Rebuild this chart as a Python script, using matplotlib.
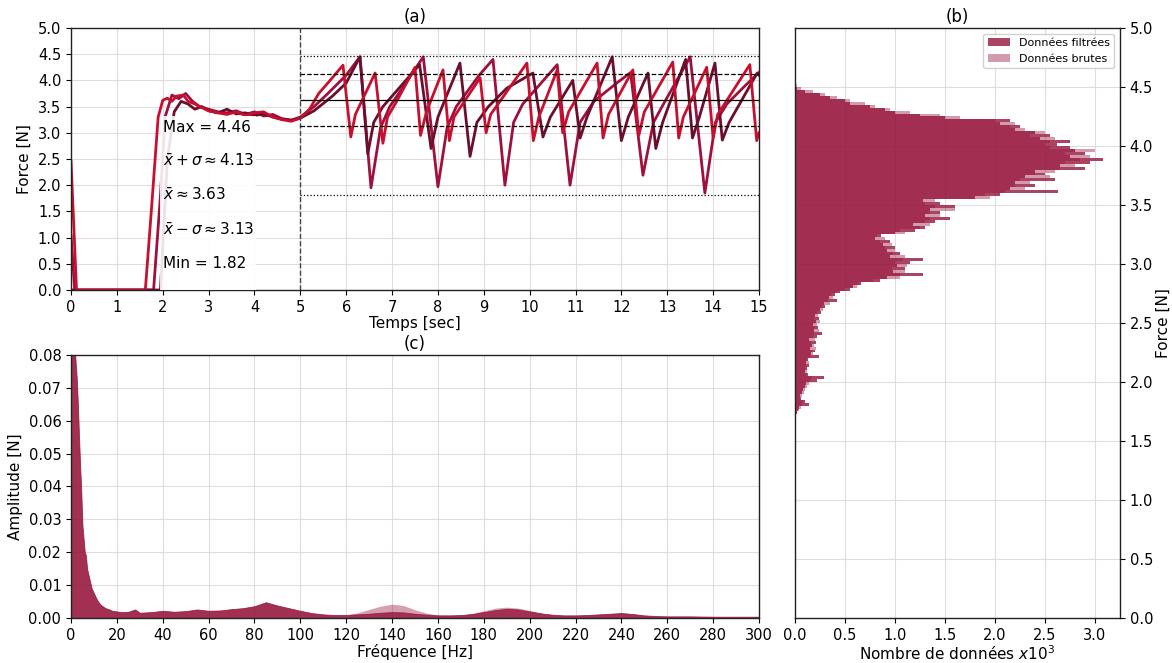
import numpy as np
import matplotlib
matplotlib.use("Agg")
import matplotlib.pyplot as plt
from matplotlib.patches import Rectangle, Patch

# ---------------- data ----------------
# (a) force traces: vertices (time [s], force [N]) for the three trials
t_a = [0, 0.12, 1.62, 1.75, 1.9, 2.0, 2.1, 2.2, 2.3, 2.45, 2.55, 2.7, 2.85, 3.0, 3.2,
       3.4, 3.6, 3.8, 4.0, 4.2, 4.4, 4.6, 4.8, 5.0, 5.2, 5.4, 5.6, 5.93, 6.10, 6.2,
       6.63, 6.80, 6.9, 7.1, 7.5, 7.62, 7.75, 8.11, 8.25, 8.35, 8.92, 9.05, 9.15, 9.94,
       10.08, 10.2, 10.6, 10.72, 10.85, 11.47, 11.6, 11.72, 12.25, 12.38, 12.5, 13.12,
       13.25, 13.35, 13.86, 14.0, 14.1, 14.8, 14.95, 15.0]
f_a = [2.45, 0, 0, 1.5, 3.3, 3.62, 3.66, 3.6, 3.7, 3.72, 3.6, 3.55, 3.48, 3.42, 3.38,
       3.35, 3.4, 3.33, 3.38, 3.4, 3.3, 3.25, 3.22, 3.28, 3.45, 3.75, 3.95, 4.29, 2.92, 3.35,
       4.14, 2.80, 3.3, 3.6, 4.25, 2.95, 3.4, 4.2, 2.85, 3.3, 4.05, 3.0, 3.35, 4.33,
       2.85, 3.3, 4.2, 3.0, 3.4, 4.33, 2.9, 3.35, 4.2, 2.95, 3.4, 4.35,
       2.9, 3.3, 4.25, 2.9, 3.35, 4.3, 2.85, 3.0]

t_b = [0, 0.08, 1.8, 1.95, 2.05, 2.2, 2.35, 2.5, 2.65, 2.8, 3.0, 3.2, 3.4, 3.6, 3.8,
       4.0, 4.2, 4.4, 4.6, 4.8, 5.0, 5.3, 5.6, 6.0, 6.3, 6.54, 6.75, 6.95, 7.3, 7.68,
       8.0, 8.2, 8.4, 8.9, 9.2, 9.46, 9.65, 9.85, 10.3, 10.6, 10.88, 11.1, 11.4, 11.9,
       12.2, 12.47, 12.7, 12.95, 13.5, 13.82, 14.05, 14.3, 14.7, 15.0]
f_b = [1.05, 0, 0, 1.8, 3.3, 3.72, 3.65, 3.75, 3.6, 3.5, 3.45, 3.4, 3.38, 3.42, 3.35,
       3.4, 3.32, 3.35, 3.27, 3.24, 3.3, 3.5, 3.75, 4.1, 4.45, 1.95, 3.1, 3.5, 3.95, 4.45,
       1.97, 3.1, 3.5, 4.1, 4.4, 2.0, 3.2, 3.55, 4.0, 4.3, 2.0, 3.2, 3.6, 3.95,
       4.15, 2.19, 3.2, 3.6, 4.45, 1.85, 3.2, 3.55, 3.9, 4.15]

t_c = [0, 1.95, 2.1, 2.25, 2.4, 2.55, 2.7, 2.85, 3.0, 3.2, 3.4, 3.6, 3.8, 4.0, 4.2,
       4.4, 4.6, 4.8, 5.0, 5.3, 5.7, 6.0, 6.3, 6.47, 6.6, 6.8, 7.2, 7.6, 7.85, 8.0,
       8.48, 8.7, 8.85, 9.1, 9.5, 10.07, 10.29, 10.45, 10.94, 11.1, 11.25, 11.8, 12.0,
       12.15, 12.58, 12.75, 12.9, 13.4, 13.55, 13.7, 14.04, 14.2, 14.35, 14.96, 15.0]
f_c = [0, 0, 2.5, 3.4, 3.6, 3.55, 3.45, 3.5, 3.42, 3.38, 3.45, 3.36, 3.38, 3.33, 3.36,
       3.3, 3.26, 3.24, 3.28, 3.42, 3.7, 3.95, 4.45, 2.6, 3.2, 3.5, 3.9, 4.3, 2.7, 3.3,
       4.33, 2.55, 3.2, 3.5, 3.85, 4.14, 2.92, 3.3, 4.0, 2.9, 3.3, 4.45, 2.85,
       3.3, 4.14, 2.7, 3.2, 4.4, 2.9, 3.3, 4.33, 2.86, 3.2, 4.14, 4.1]

stat_values = [4.46, 4.13, 3.63, 3.13, 1.82]   # max, mean+sd, mean, mean-sd, min
stat_styles = [":", "--", "-", "--", ":"]

# (b) histogram, counts x1e3 per 0.025 N bin starting at 1.700 N
hist_start, hist_width = 1.700, 0.025
hist_filtered = [0.01, 0.02, 0.03, 0.04, 0.14, 0.10, 0.06, 0.05, 0.07, 0.08, 0.10, 0.11,
                 0.22, 0.29, 0.13, 0.10, 0.12, 0.14, 0.11, 0.13, 0.24, 0.16, 0.20, 0.15,
                 0.17, 0.21, 0.14, 0.22, 0.27, 0.19, 0.23, 0.18, 0.21, 0.24, 0.20, 0.26,
                 0.25, 0.30, 0.29, 0.42, 0.34, 0.40, 0.45, 0.55, 0.58, 0.66, 0.85, 0.92,
                 1.28, 0.98, 1.10, 1.02, 1.15, 1.28, 0.95, 1.05, 0.92, 1.00, 0.88, 0.95,
                 0.80, 0.86, 1.00, 1.20, 1.30, 1.18, 1.40, 1.55, 1.30, 1.45, 1.35, 1.60,
                 1.45, 1.28, 1.80, 2.05, 2.63, 2.15, 2.40, 2.20, 2.60, 2.30, 2.50, 2.40,
                 2.90, 2.65, 2.95, 3.08, 2.75, 2.90, 2.80, 2.75, 2.62, 2.75, 2.45, 2.55,
                 2.40, 2.20, 2.25, 2.05, 2.15, 1.50, 1.25, 1.00, 0.90, 0.75, 0.55, 0.50,
                 0.35, 0.25, 0.10, 0.02, 0.00, 0.00]
hist_raw = [0.01, 0.02, 0.04, 0.06, 0.07, 0.08, 0.05, 0.07, 0.09, 0.10, 0.12, 0.14,
            0.15, 0.17, 0.11, 0.12, 0.10, 0.11, 0.14, 0.12, 0.15, 0.18, 0.17, 0.21,
            0.19, 0.16, 0.20, 0.18, 0.19, 0.24, 0.20, 0.22, 0.25, 0.19, 0.23, 0.22,
            0.28, 0.27, 0.35, 0.33, 0.38, 0.36, 0.42, 0.50, 0.62, 0.64, 0.78, 1.05,
            1.05, 1.10, 0.97, 1.12, 1.00, 1.08, 1.10, 0.98, 1.00, 0.90, 0.97, 0.85,
            0.90, 0.82, 1.10, 1.05, 1.25, 1.35, 1.30, 1.35, 1.45, 1.35, 1.60, 1.40,
            1.30, 1.40, 1.95, 1.90, 2.10, 2.30, 2.20, 2.35, 2.25, 2.55, 2.40, 2.60,
            2.65, 2.80, 2.70, 2.85, 2.95, 2.70, 3.00, 2.55, 2.50, 2.55, 2.60, 2.35,
            2.50, 2.30, 2.15, 2.20, 2.00, 1.65, 1.45, 1.15, 0.95, 0.80, 0.70, 0.55,
            0.42, 0.30, 0.18, 0.06, 0.02, 0.01]

# (c) amplitude spectrum envelopes
spec_freq = [0, 0.5, 1, 1.5, 2, 2.5, 3, 3.5, 4, 4.5, 5, 5.5, 6, 6.5, 7, 8, 9, 10, 11, 12,
             13, 14, 15, 16, 18, 20, 22, 25, 28, 30, 35, 40, 45, 50, 55, 60, 65, 70, 75,
             80, 85, 90, 95, 100, 105, 110, 115, 120, 125, 130, 135, 140, 145, 150, 155,
             160, 165, 170, 175, 180, 185, 190, 195, 200, 205, 210, 215, 220, 225, 230,
             235, 240, 245, 250, 255, 260, 270, 280, 290, 300]
spec_filt = [0.09, 0.095, 0.09, 0.085, 0.078, 0.073, 0.065, 0.055, 0.046, 0.038, 0.028,
             0.024, 0.020, 0.019, 0.015, 0.012, 0.009, 0.0075, 0.006, 0.0048,
             0.004, 0.0035, 0.003, 0.0028, 0.0022, 0.002, 0.0018, 0.0019, 0.0026, 0.0016,
             0.0018, 0.0022, 0.0019, 0.0021, 0.0026, 0.0022, 0.0023, 0.0027, 0.003,
             0.0036, 0.0048, 0.0038, 0.003, 0.0022, 0.0015, 0.0011, 0.0009, 0.0009,
             0.0011, 0.0013, 0.0016, 0.0018, 0.0017, 0.0013, 0.001, 0.0008, 0.0008,
             0.0009, 0.0012, 0.0018, 0.0024, 0.0028, 0.0026, 0.002, 0.0014, 0.001,
             0.0008, 0.0008, 0.0009, 0.0011, 0.0013, 0.0015, 0.0012, 0.0008, 0.0006,
             0.0005, 0.0005, 0.0004, 0.0004, 0.0004]
spec_raw = [0.09, 0.095, 0.09, 0.085, 0.078, 0.073, 0.065, 0.055, 0.046, 0.038, 0.028,
            0.024, 0.020, 0.019, 0.015, 0.012, 0.009, 0.0075, 0.006, 0.0048,
            0.004, 0.0035, 0.003, 0.0028, 0.0022, 0.002, 0.0018, 0.0019, 0.0026, 0.0016,
            0.0018, 0.0022, 0.0019, 0.0021, 0.0026, 0.0022, 0.0023, 0.0027, 0.003,
            0.0036, 0.0048, 0.0038, 0.003, 0.0022, 0.0015, 0.0011, 0.0009, 0.0010,
            0.0016, 0.0026, 0.0036, 0.0042, 0.0038, 0.0025, 0.0015, 0.0009, 0.0008,
            0.0009, 0.0014, 0.0022, 0.0030, 0.0033, 0.0030, 0.0023, 0.0015, 0.001,
            0.0008, 0.0008, 0.0009, 0.0011, 0.0013, 0.0016, 0.0013, 0.0008, 0.0006,
            0.0005, 0.0005, 0.0004, 0.0004, 0.0004]

# ---------------- figure ----------------
plt.rcParams.update({"font.size": 11, "axes.edgecolor": "#222",
                     "axes.linewidth": 1.0, "xtick.labelsize": 10.5,
                     "ytick.labelsize": 10.5})
RED, MID, DARK = "#C8102E", "#A0103C", "#6B0F2E"
BASE = "#96143C"
grid_kw = dict(color="#dddddd", lw=0.8)

fig = plt.figure(figsize=(11.72, 6.63), dpi=100)
axA = fig.add_axes([0.0606, 0.5626, 0.5870, 0.3952])
axC = fig.add_axes([0.0606, 0.0679, 0.5870, 0.3967])
axB = fig.add_axes([0.6783, 0.0679, 0.2773, 0.8899])

# ---- (a) time traces ----
axA.plot(t_b, f_b, color=MID, lw=2.0, zorder=2)
axA.plot(t_c, f_c, color=DARK, lw=2.0, zorder=2)
axA.plot(t_a, f_a, color=RED, lw=2.0, zorder=2)
axA.axvline(5, color="#444", ls="--", lw=1.0, zorder=3)
for v, s in zip(stat_values, stat_styles):
    axA.hlines(v, 5, 15, colors="black", linestyles=s, lw=0.9, zorder=3)
axA.add_patch(Rectangle((1.93, 0), 2.1, 3.32, facecolor="white", alpha=0.88,
                        edgecolor="none", zorder=4))
labels = [f"Max = {stat_values[0]:.2f}",
          rf"$\bar{{x}}+\sigma \approx {stat_values[1]:.2f}$",
          rf"$\bar{{x}} \approx {stat_values[2]:.2f}$",
          rf"$\bar{{x}}-\sigma \approx {stat_values[3]:.2f}$",
          f"Min = {stat_values[4]:.2f}"]
for i, lab in enumerate(labels):
    axA.text(2.0, 3.11 - 0.652 * i, lab, fontsize=11, va="center", ha="left", zorder=5)
axA.set_xlim(0, 15)
axA.set_ylim(0, 5)
axA.set_xticks(range(0, 16))
axA.set_yticks(np.arange(0, 5.01, 0.5))
axA.grid(True, **grid_kw)
axA.set_axisbelow(True)
axA.set_xlabel("Temps [sec]", labelpad=1)
axA.set_ylabel("Force [N]")
axA.set_title("(a)", fontsize=12, pad=4)

# ---- (b) histogram ----
edges = hist_start + hist_width * np.arange(len(hist_filtered))
axB.barh(edges, hist_raw, height=hist_width, align="edge", color=BASE, alpha=0.42,
         lw=0, label="Données brutes")
axB.barh(edges, hist_filtered, height=hist_width, align="edge", color=BASE, alpha=0.8,
         lw=0, label="Données filtrées")
axB.set_xlim(0, 3.25)
axB.set_ylim(0, 5)
axB.set_xticks(np.arange(0, 3.01, 0.5))
axB.set_yticks(np.arange(0, 5.01, 0.5))
axB.yaxis.tick_right()
axB.yaxis.set_label_position("right")
axB.set_ylabel("Force [N]", labelpad=2)
axB.set_xlabel(r"Nombre de données $x10^3$", labelpad=1)
axB.grid(True, **grid_kw)
axB.set_axisbelow(True)
axB.set_title("(b)", fontsize=12, pad=4)
handles = [Patch(facecolor=BASE, alpha=0.8, label="Données filtrées"),
           Patch(facecolor=BASE, alpha=0.42, label="Données brutes")]
axB.legend(handles=handles, loc="upper right", fontsize=8, framealpha=0.9)

# ---- (c) spectrum ----
axC.fill_between(spec_freq, 0, spec_raw, color=BASE, alpha=0.4, lw=0)
axC.fill_between(spec_freq, 0, spec_filt, color=BASE, alpha=0.8, lw=0.6)
axC.set_xlim(0, 300)
axC.set_ylim(0, 0.08)
axC.set_xticks(range(0, 301, 20))
axC.set_yticks(np.arange(0, 0.0801, 0.01))
axC.yaxis.set_major_formatter(matplotlib.ticker.FormatStrFormatter("%.2f"))
axC.grid(True, **grid_kw)
axC.set_axisbelow(True)
axC.set_xlabel("Fréquence [Hz]", labelpad=1)
axC.set_ylabel("Amplitude [N]")
axC.set_title("(c)", fontsize=12, pad=4)

fig.savefig("out.png", dpi=100)
